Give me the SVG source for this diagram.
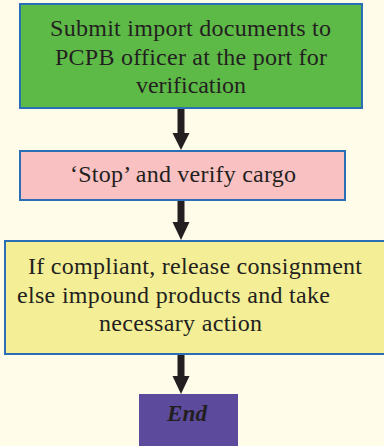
<svg xmlns="http://www.w3.org/2000/svg" width="384" height="446" viewBox="0 0 384 446">
<style>
.box{stroke:#2a6fb6;stroke-width:2}
text{font-family:"Liberation Serif",serif;font-size:24px;fill:#231f20}
.e{font-weight:bold;font-style:italic}
.ar{stroke:#231f20;stroke-width:7}
</style>
<rect width="384" height="446" fill="#fffcea"/>
<g id="connectors">
<line class="ar" x1="181" y1="109" x2="181" y2="134"/><path d="M172.5 133 L189.5 133 L181 150 Z" fill="#231f20"/>
<line class="ar" x1="181" y1="201" x2="181" y2="223"/><path d="M172.5 222 L189.5 222 L181 240 Z" fill="#231f20"/>
<line class="ar" x1="181" y1="355" x2="181" y2="377"/><path d="M172.5 376 L189.5 376 L181 394 Z" fill="#231f20"/>
</g>
<g id="n1" font-family="Liberation Serif, serif">
<rect class="box" x="20" y="4" width="342" height="104" fill="#5eba47"/>
<text x="50" y="36" textLength="281" lengthAdjust="spacing">Submit import documents to</text>
<text x="55" y="65" textLength="272" lengthAdjust="spacing">PCPB officer at the port for</text>
<text x="136" y="92.5" textLength="110" lengthAdjust="spacing">verification</text>
</g>
<g id="n2">
<rect class="box" x="20" y="151" width="325" height="49" fill="#f9c1c2"/>
<text x="70" y="182" textLength="226" lengthAdjust="spacing">‘Stop’ and verify cargo</text>
</g>
<g id="n3">
<rect class="box" x="5" y="241" width="381" height="113" fill="#f4ef96"/>
<text x="28" y="274" textLength="334" lengthAdjust="spacing">If compliant, release consignment</text>
<text x="17" y="303" textLength="313" lengthAdjust="spacing">else impound products and take</text>
<text x="99" y="331" textLength="163" lengthAdjust="spacing">necessary action</text>
</g>
<g id="n4">
<rect x="139" y="394" width="99" height="52" fill="#5c4b9d"/>
<text class="e" x="167" y="421" textLength="40" lengthAdjust="spacingAndGlyphs">End</text>
</g>
</svg>
